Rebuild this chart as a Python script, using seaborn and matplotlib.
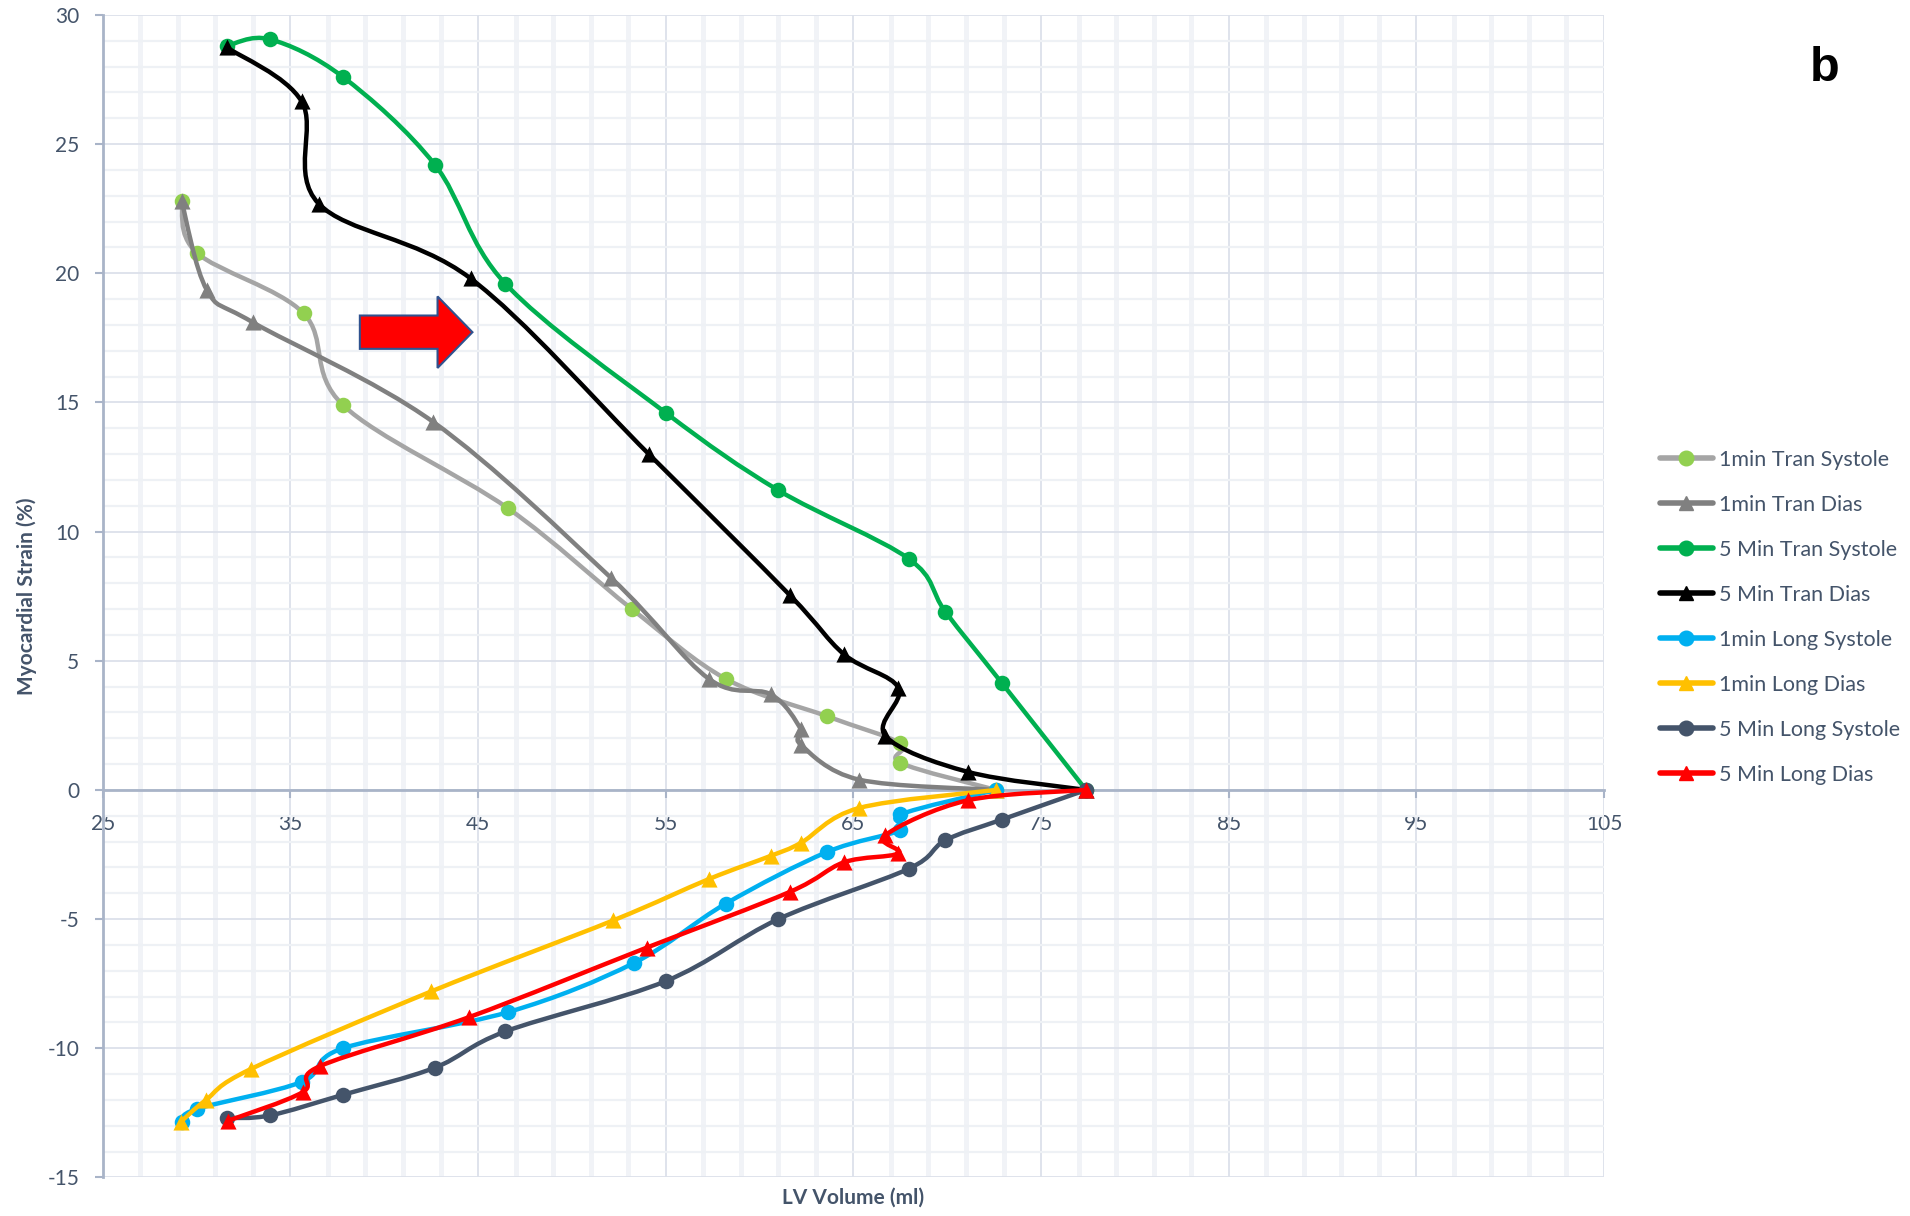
import numpy as np
import pandas as pd
import matplotlib
matplotlib.use("Agg")
import matplotlib.pyplot as plt
import seaborn as sns
from matplotlib.path import Path
from matplotlib.patches import PathPatch, FancyArrow
from matplotlib.lines import Line2D

# ---------------------------------------------------------------
# data (LV volume in ml, strain in %)
# ---------------------------------------------------------------
x_1min_tran_sys = [29.2, 30.0, 35.7, 37.8, 46.6, 53.2, 58.2, 63.6, 67.5, 67.5, 72.6]
y_1min_tran_sys = [22.8, 20.8, 18.45, 14.9, 10.9, 7.0, 4.3, 2.85, 1.8, 1.05, 0.0]

x_1min_tran_dia = [29.2, 30.55, 33.0, 42.6, 52.1, 57.3, 60.6, 62.2, 62.2, 65.3, 72.6]
y_1min_tran_dia = [22.8, 19.35, 18.1, 14.25, 8.2, 4.3, 3.7, 2.35, 1.75, 0.4, 0.0]

x_5min_tran_sys = [31.6, 33.9, 37.8, 42.7, 46.45, 55.0, 61.0, 67.95, 69.9, 72.9, 77.4]
y_5min_tran_sys = [28.8, 29.06, 27.6, 24.2, 19.6, 14.6, 11.6, 8.95, 6.9, 4.15, 0.0]

x_5min_tran_dia = [31.6, 35.6, 36.5, 44.6, 54.1, 61.6, 64.5, 67.4, 66.7, 71.1, 77.4]
y_5min_tran_dia = [28.75, 26.65, 22.7, 19.8, 13.0, 7.55, 5.25, 3.95, 2.1, 0.7, 0.0]

x_1min_long_sys = [29.2, 30.0, 35.6, 37.8, 46.6, 53.3, 58.2, 63.6, 67.5, 67.5, 72.6]
y_1min_long_sys = [-12.85, -12.35, -11.3, -10.0, -8.6, -6.7, -4.4, -2.4, -1.55, -0.95, 0.0]

x_1min_long_dia = [29.15, 30.5, 32.9, 42.5, 52.2, 57.3, 60.6, 62.2, 65.3, 72.6]
y_1min_long_dia = [-12.85, -12.0, -10.8, -7.8, -5.05, -3.45, -2.55, -2.05, -0.7, 0.0]

x_5min_long_sys = [31.6, 33.9, 37.8, 42.7, 46.45, 55.0, 61.0, 67.95, 69.9, 72.9, 77.4]
y_5min_long_sys = [-12.7, -12.6, -11.8, -10.75, -9.35, -7.4, -5.0, -3.05, -1.95, -1.15, 0.0]

x_5min_long_dia = [31.7, 35.65, 36.55, 44.5, 54.0, 61.6, 64.5, 67.4, 66.7, 71.1, 77.4]
y_5min_long_dia = [-12.8, -11.7, -10.7, -8.8, -6.1, -3.95, -2.8, -2.45, -1.75, -0.4, 0.0]

series_names = ['1min Tran Systole', '1min Tran Dias', '5 Min Tran Systole', '5 Min Tran Dias',
                '1min Long Systole', '1min Long Dias', '5 Min Long Systole', '5 Min Long Dias']
series_x = [x_1min_tran_sys, x_1min_tran_dia, x_5min_tran_sys, x_5min_tran_dia,
            x_1min_long_sys, x_1min_long_dia, x_5min_long_sys, x_5min_long_dia]
series_y = [y_1min_tran_sys, y_1min_tran_dia, y_5min_tran_sys, y_5min_tran_dia,
            y_1min_long_sys, y_1min_long_dia, y_5min_long_sys, y_5min_long_dia]

line_colors = ['#A5A5A5', '#808080', '#00B050', '#000000', '#00B0F0', '#FFC000', '#44546A', '#FF0000']
marker_colors = ['#92D050', '#808080', '#00B050', '#000000', '#00B0F0', '#FFC000', '#44546A', '#FF0000']
markers = ['o', '^', 'o', '^', 'o', '^', 'o', '^']

text_col = '#44546A'
axis_col = '#A9B4C8'

# ---------------------------------------------------------------
# style
# ---------------------------------------------------------------
sns.set_theme(style='white')
plt.rcParams['font.family'] = ['Lato', 'DejaVu Sans']
plt.rcParams['axes.unicode_minus'] = False

fig = plt.figure(figsize=(19.1, 12.16), dpi=100)
ax = fig.add_axes([0.0538, 0.0317, 0.786, 0.956])
ax.set_xlim(25, 105)
ax.set_ylim(-15, 30)


def smooth_path(ax, xs, ys):
    # excel-like smoothed line: cubic bezier through the points (done in pixel space)
    pts = ax.transData.transform(np.column_stack([xs, ys]))
    n = len(pts)
    verts = [pts[0]]
    codes = [Path.MOVETO]
    for i in range(n - 1):
        p0 = pts[i - 1] if i > 0 else pts[i]
        p1 = pts[i]
        p2 = pts[i + 1]
        p3 = pts[i + 2] if i + 2 < n else pts[i + 1]
        verts += [p1 + (p2 - p0) / 6.0, p2 - (p3 - p1) / 6.0, p2]
        codes += [Path.CURVE4] * 3
    verts = ax.transData.inverted().transform(np.array(verts))
    return Path(verts, codes)


handles = []
for i, name in enumerate(series_names):
    z = 3 + i * 0.1
    ax.add_patch(PathPatch(smooth_path(ax, series_x[i], series_y[i]), fill=False,
                           edgecolor=line_colors[i], lw=3.2, capstyle='round',
                           joinstyle='round', zorder=z))
    df = pd.DataFrame({'volume': series_x[i], 'strain': series_y[i]})
    sns.scatterplot(data=df, x='volume', y='strain', ax=ax, color=marker_colors[i],
                    marker=markers[i], s=125 if markers[i] == 'o' else 135,
                    linewidth=0, zorder=z + 0.05, legend=False)
    handles.append(Line2D([], [], color=line_colors[i], lw=4, marker=markers[i],
                          markersize=10.5, markerfacecolor=marker_colors[i],
                          markeredgecolor=marker_colors[i], label=name))

# red block arrow
ax.add_patch(FancyArrow(38.7, 17.72, 6.0, 0, width=1.29, head_width=2.77, head_length=1.86,
                        length_includes_head=True, facecolor='#FF0000',
                        edgecolor='#2F528F', lw=1.5, zorder=10))

# grid and axes
ax.set_xticks(np.arange(25, 106, 10))
ax.set_xticks(np.arange(25, 106, 2), minor=True)
ax.set_yticks(np.arange(-15, 31, 5))
ax.set_yticks(np.arange(-15, 31, 1), minor=True)
ax.set_axisbelow(True)
ax.grid(which='major', color='#DCE1EA', lw=1.3)
ax.grid(which='minor', axis='x', color='#F1F3F7', lw=3.5)
ax.grid(which='minor', axis='y', color='#EEF1F5', lw=1.6)

for s in ['top', 'right']:
    ax.spines[s].set_visible(False)
ax.spines['bottom'].set_position(('data', 0))
ax.spines['bottom'].set_color(axis_col)
ax.spines['bottom'].set_linewidth(2)
ax.spines['left'].set_color(axis_col)
ax.spines['left'].set_linewidth(2)

ax.tick_params(which='major', direction='out', length=6, width=1.5, color=axis_col,
               labelcolor=text_col, labelsize=15, pad=11)
ax.tick_params(which='minor', length=0)
ax.tick_params(axis='x', bottom=True)
ax.tick_params(axis='y', left=True)

ax.set_xlabel('LV Volume (ml)', fontsize=15, fontweight='bold', color=text_col)
ax.xaxis.label.set_va('center')
ax.xaxis.set_label_coords(0.5, -0.0176)
ax.set_ylabel('Myocardial Strain (%)', fontsize=15, fontweight='bold', color=text_col)
ax.yaxis.label.set_va('center')
ax.yaxis.set_label_coords(-0.0504, 0.5)

fig.legend(handles=handles, loc='upper left', bbox_to_anchor=(1660 / 1910, 1 - 450 / 1216),
           frameon=False, fontsize=15.5, labelcolor=text_col, handlelength=2.45,
           handletextpad=0.3, labelspacing=1.16, borderpad=0, borderaxespad=0)

fig.text(1825 / 1910, 1 - 81 / 1216, 'b', ha='center', va='baseline', fontsize=35,
         fontweight='bold', color='black', family=['Liberation Sans', 'DejaVu Sans'])

fig.savefig('out.png', dpi=100)
plt.close()
